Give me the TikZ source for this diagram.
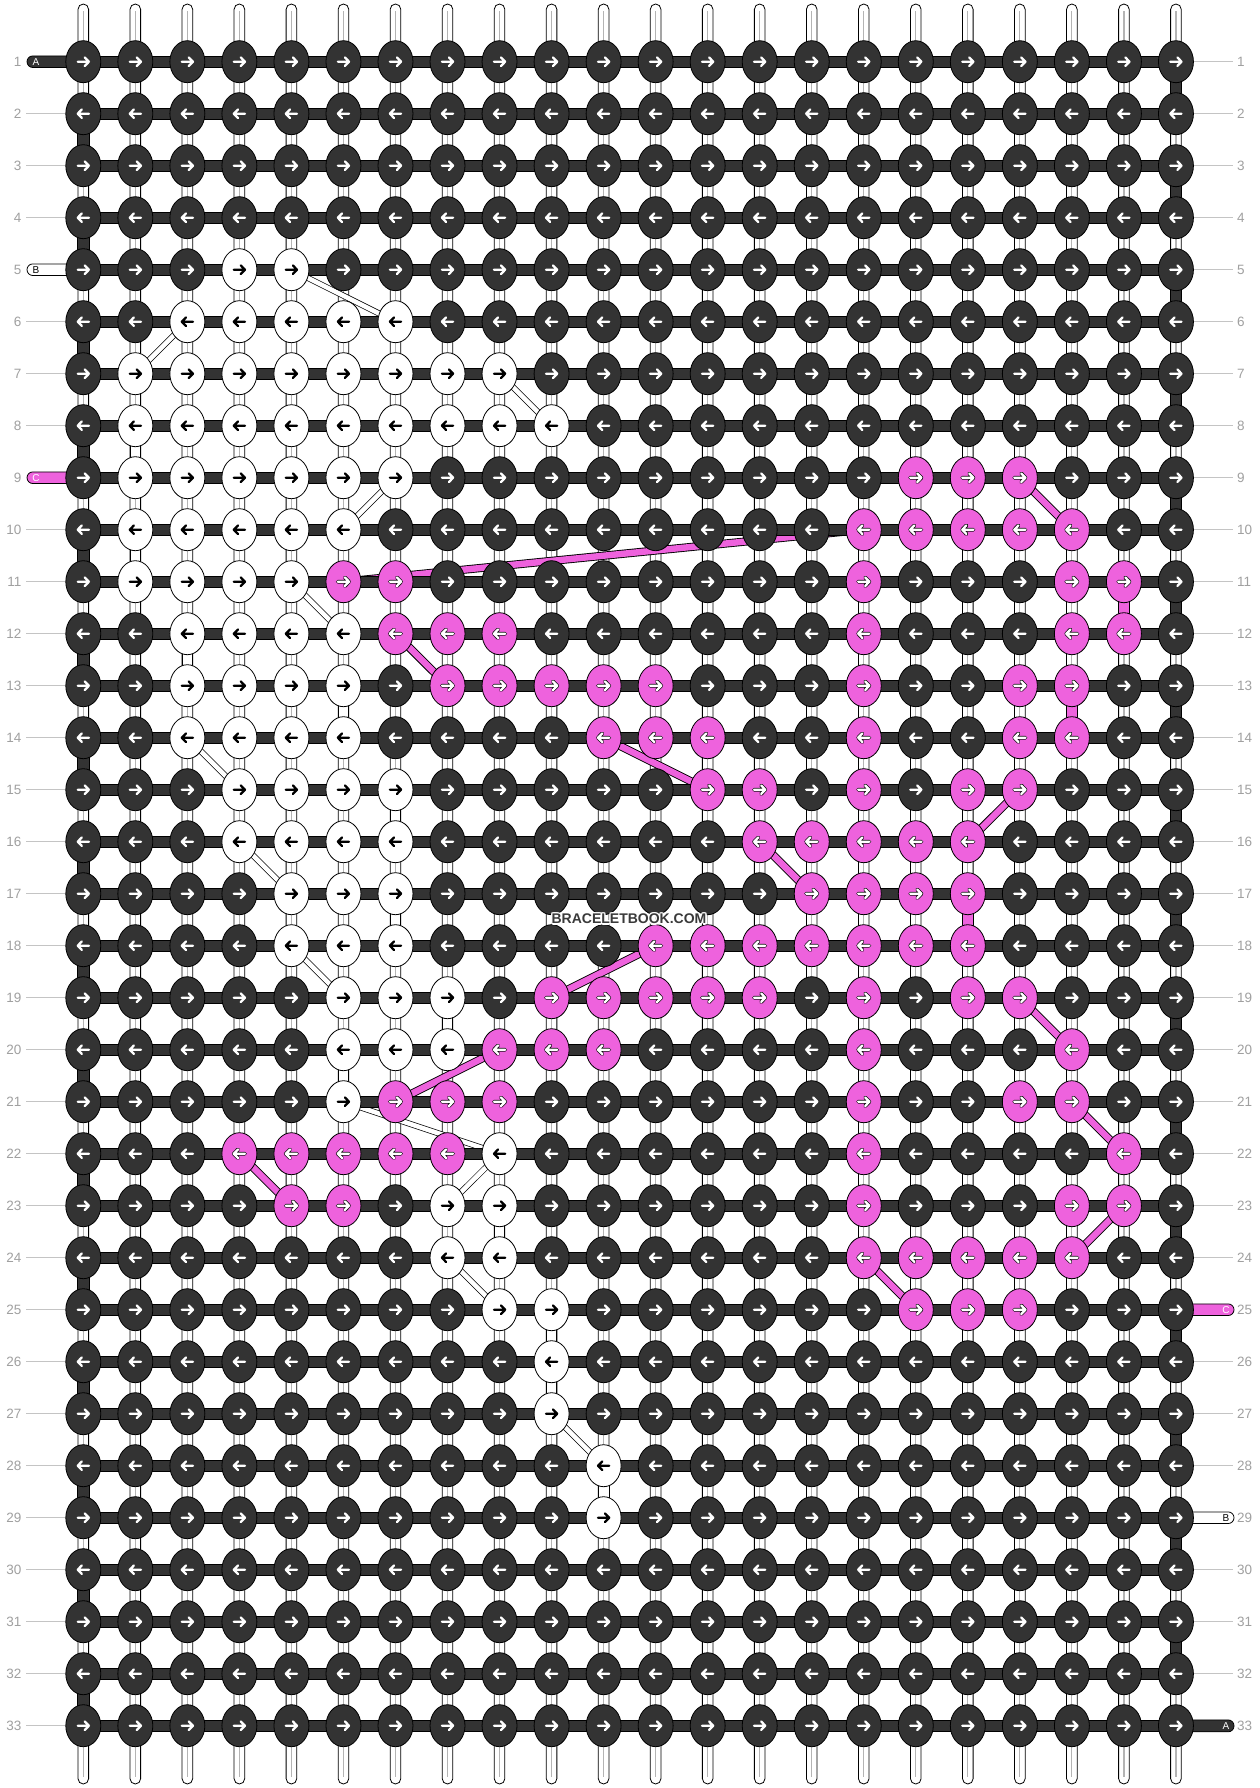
\documentclass[tikz,border=0pt]{standalone}
\usepackage{fontspec}
\setmainfont{Liberation Sans}
\usetikzlibrary{shapes.geometric}
\pgfdeclarelayer{bglayer}
\pgfdeclarelayer{midlayer}
\pgfdeclarelayer{barlayer}
\pgfsetlayers{bglayer,midlayer,barlayer,main}
\definecolor{kD}{HTML}{333333}
\definecolor{kW}{HTML}{FFFFFF}
\definecolor{kP}{HTML}{EE62DD}
\definecolor{oD}{HTML}{333333}
\definecolor{oW}{HTML}{FFFFFF}
\definecolor{oP}{HTML}{111111}
\definecolor{aD}{HTML}{FFFFFF}
\definecolor{aW}{HTML}{000000}
\definecolor{aP}{HTML}{FFFFFF}
\definecolor{lblgrey}{HTML}{A0A0A0}
\definecolor{linegrey}{HTML}{C4C4C4}
\definecolor{strgrey}{HTML}{B4B4B4}
\definecolor{wmgrey}{HTML}{3A3A3A}
\tikzset{
  knot/.style={ellipse, draw=black, line width=0.8pt, minimum width=35pt, minimum height=42pt, inner sep=0pt},
  arrowpath/.style={line cap=round, line join=round},
  vstring/.style={draw=black, fill=white, line width=0.8pt, rounded corners=5.3pt},
  strline/.style={draw=strgrey, line width=1.2pt},
  hbar/.style={draw=black, fill=kD, line width=0.8pt},
  dseg/.style={draw=black, fill=kD, line width=0.8pt},
  wseg/.style={draw=black, fill=white, line width=0.8pt},
  pseg/.style={draw=black, fill=kP, line width=0.8pt},
  bband/.style={draw=black, line width=0.7pt, double=white, double distance=4.6pt},
  pband/.style={draw=black, line width=0.9pt, double=kP, double distance=6.4pt},
  rowlbl/.style={text=lblgrey, font=\fontsize{13.5}{14}\selectfont, inner sep=0pt},
  guide/.style={draw=linegrey, line width=1pt},
  dendbar/.style={draw=black, fill=kD, line width=0.8pt, rounded corners=5.8pt},
  wendbar/.style={draw=black, fill=white, line width=0.8pt, rounded corners=5.8pt},
  pendbar/.style={draw=black, fill=kP, line width=0.8pt, rounded corners=5.8pt},
  thrlbl/.style={font=\fontsize{10}{10}\selectfont, inner sep=0pt},
  wmark/.style={font=\bfseries\fontsize{14}{14}\selectfont, inner sep=0pt}
}
\begin{document}
\begin{tikzpicture}[x=1pt,y=-1pt]
\useasboundingbox (0,0) rectangle (1260,1788);
% colour map of the knots (default dark)
\foreach \r/\a/\b in {5/4/5, 6/3/7, 7/2/9, 8/2/10, 9/2/7, 10/2/6, 11/2/5, 12/3/6, 13/3/6, 14/3/6, 15/4/7, 16/4/7, 17/5/7, 18/5/7, 19/6/8, 20/6/8, 21/6/6, 22/9/9, 23/8/9, 24/8/9, 25/9/10, 26/10/10, 27/10/10, 28/11/11, 29/11/11}
  {\foreach \c in {\a,...,\b} {\expandafter\gdef\csname kc-\r-\c\endcsname{W}}}
\foreach \r/\a/\b in {9/17/19, 10/16/20, 11/6/7, 11/16/16, 11/20/21, 12/7/9, 12/16/16, 12/20/21, 13/8/12, 13/16/16, 13/19/20, 14/11/13, 14/16/16, 14/19/20, 15/13/14, 15/16/16, 15/18/19, 16/14/18, 17/15/18, 18/12/18, 19/10/14, 19/16/16, 19/18/19, 20/9/11, 20/16/16, 20/20/20, 21/7/9, 21/16/16, 21/19/20, 22/4/8, 22/16/16, 22/21/21, 23/5/6, 23/16/16, 23/20/21, 24/16/20, 25/17/19}
  {\foreach \c in {\a,...,\b} {\expandafter\gdef\csname kc-\r-\c\endcsname{P}}}
% knots with arrows
\foreach \r in {1,...,33} {
  \pgfmathsetmacro\ky{61.7+(\r-1)*52}
  \pgfmathtruncatemacro\dir{mod(\r,2)==1 ? 1 : -1}
  \foreach \c in {1,...,22} {
    \pgfmathsetmacro\kx{83.3+(\c-1)*52.03}
    \ifcsname kc-\r-\c\endcsname \edef\k{\csname kc-\r-\c\endcsname}\else\def\k{D}\fi
    \node[knot, fill=k\k] (k-\r-\c) at (\kx,\ky) {};
    \draw[arrowpath, draw=o\k, line width=3.8pt, shift={(\kx,\ky)}, xscale=\dir] (-5.6,0) -- (5.6,0) (1.4,-4.3) -- (5.6,0) -- (1.4,4.3);
    \draw[arrowpath, draw=a\k, line width=2.3pt, shift={(\kx,\ky)}, xscale=\dir] (-5.6,0) -- (5.6,0) (1.4,-4.3) -- (5.6,0) -- (1.4,4.3);
  }
}
% background and vertical strings
\begin{pgfonlayer}{bglayer}
  \fill[white] (0,0) rectangle (1260,1788);
  \foreach \c in {1,...,22} {
    \pgfmathsetmacro\kx{83.3+(\c-1)*52.03}
    \coordinate (top-\c) at (\kx,4);
    \coordinate (bot-\c) at (\kx,1784);
    \draw[vstring] ([xshift=-5.3pt]top-\c) rectangle ([xshift=5.3pt]bot-\c);
    \draw[strline] ([yshift=-7pt]top-\c) -- ([yshift=7pt]bot-\c);
  }
\end{pgfonlayer}
% carried threads
\begin{pgfonlayer}{midlayer}
  \foreach \ra/\ca/\rb/\cb in {5/5/6/7, 6/3/7/2, 7/9/8/10, 9/7/10/6, 11/5/12/6, 14/3/15/4, 16/4/17/5, 18/5/19/6, 21/6/22/9, 22/9/23/8, 24/8/25/9, 27/10/28/11}
    \draw[bband] (k-\ra-\ca.center) -- (k-\rb-\cb.center);
  \foreach \ra/\ca/\rb/\cb in {9/19/10/20, 10/16/11/6, 12/7/13/8, 14/11/15/13, 15/19/16/18, 16/14/17/15, 18/12/19/10, 19/19/20/20, 20/9/21/7, 21/20/22/21, 22/4/23/5, 23/21/24/20, 24/16/25/17}
    \draw[pband] (k-\ra-\ca.center) -- (k-\rb-\cb.center);
  \foreach \ra/\rb/\cc in {8/9/2, 10/11/2, 12/13/3, 13/14/6, 15/16/7, 17/18/7, 19/20/8, 20/21/6, 23/24/9, 25/26/10, 26/27/10, 28/29/11}
    \draw[wseg] ([xshift=-5.3pt]k-\ra-\cc.center) rectangle ([xshift=5.3pt]k-\rb-\cc.center);
  \foreach \ra/\rb/\cc in {11/12/21, 13/14/20, 17/18/18}
    \draw[pseg] ([xshift=-5.3pt]k-\ra-\cc.center) rectangle ([xshift=5.3pt]k-\rb-\cc.center);
  \foreach \ra in {1,3,...,31} {
    \pgfmathtruncatemacro\rb{\ra+1}
    \draw[dseg] ([xshift=-5.8pt]k-\ra-22.center) rectangle ([xshift=5.8pt]k-\rb-22.center);
  }
  \foreach \ra in {2,4,...,32} {
    \pgfmathtruncatemacro\rb{\ra+1}
    \draw[dseg] ([xshift=-5.8pt]k-\ra-1.center) rectangle ([xshift=5.8pt]k-\rb-1.center);
  }
\end{pgfonlayer}
% row threads and thread ends
\begin{pgfonlayer}{barlayer}
  \foreach \r in {1,...,33}
    \draw[hbar] ([yshift=5.8pt]k-\r-1.center) rectangle ([yshift=-5.8pt]k-\r-22.center);
  \coordinate (endA-l) at (27,61.7);
  \coordinate (endB-l) at (27,269.7);
  \coordinate (endC-l) at (27,477.7);
  \coordinate (endC-r) at (1234,1309.7);
  \coordinate (endB-r) at (1234,1517.7);
  \coordinate (endA-r) at (1234,1726);
  \draw[dendbar] ([yshift=5.8pt]endA-l) rectangle ([yshift=-5.8pt]k-1-1.center);
  \draw[wendbar] ([yshift=5.8pt]endB-l) rectangle ([yshift=-5.8pt]k-5-1.center);
  \draw[pendbar] ([yshift=5.8pt]endC-l) rectangle ([yshift=-5.8pt]k-9-1.center);
  \draw[pendbar] ([yshift=5.8pt]k-25-22.center) rectangle ([yshift=-5.8pt]endC-r);
  \draw[wendbar] ([yshift=5.8pt]k-29-22.center) rectangle ([yshift=-5.8pt]endB-r);
  \draw[dendbar] ([yshift=5.8pt]k-33-22.center) rectangle ([yshift=-5.8pt]endA-r);
\end{pgfonlayer}
\node[thrlbl, text=white] (tA-l) at (36,61.7) {A};
\node[thrlbl, text=black] (tB-l) at (36,269.7) {B};
\node[thrlbl, text=white] (tC-l) at (36,477.7) {C};
\node[thrlbl, text=white] (tC-r) at (1226,1309.7) {C};
\node[thrlbl, text=black] (tB-r) at (1226,1517.7) {B};
\node[thrlbl, text=white] (tA-r) at (1226,1726) {A};
% row numbers
\foreach \r in {1,...,33} {
  \pgfmathsetmacro\ky{61.7+(\r-1)*52}
  \node[rowlbl, anchor=east] (ll-\r) at (21.5,\ky) {\r};
  \node[rowlbl, anchor=west] (rl-\r) at (1237,\ky) {\r};
}
\foreach \r in {2,3,4,6,7,8,10,11,...,33} {
  \pgfmathsetmacro\ky{61.7+(\r-1)*52}
  \coordinate (lf-\r) at (26,\ky);
  \draw[guide] (lf-\r) -- (k-\r-1);
}
\foreach \r in {1,...,24,26,27,28,30,31,32} {
  \pgfmathsetmacro\ky{61.7+(\r-1)*52}
  \coordinate (rf-\r) at (1233,\ky);
  \draw[guide] (k-\r-22) -- (rf-\r);
}
% watermark
\foreach \dx/\dy [count=\i] in {1.3/0,-1.3/0,0/1.3,0/-1.3,0.95/0.95,-0.95/0.95,0.95/-0.95,-0.95/-0.95}
  \node[wmark, text=white] (halo-\i) at (629+\dx,919+\dy) {BRACELETBOOK.COM};
\node[wmark, text=wmgrey] (wm) at (629,919) {BRACELETBOOK.COM};
\end{tikzpicture}
\end{document}
